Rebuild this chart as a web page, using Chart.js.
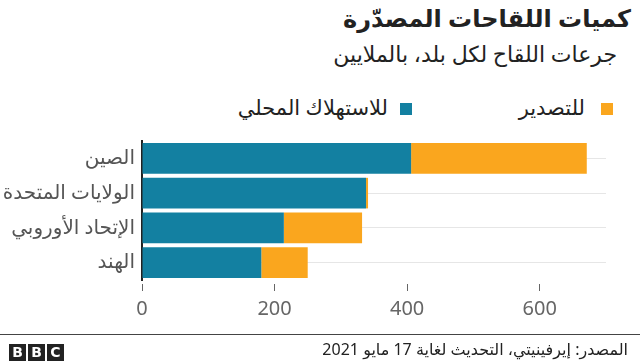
<!DOCTYPE html>
<html lang="ar">
<head>
<meta charset="utf-8">
<script src="https://cdn.jsdelivr.net/npm/chart.js@4.4.1/dist/chart.umd.min.js"></script>
<style>
body{margin:0;width:640px;height:363px;position:relative;background:#fff;overflow:hidden;
  font-family:"Noto Sans","DejaVu Sans",sans-serif;color:#222}
.t{position:absolute;direction:rtl;white-space:nowrap;line-height:1.2}
#title{right:9px;top:4px;font-size:24px;font-weight:bold}
#sub{right:23px;top:40px;font-size:22px}
.box{position:absolute;width:12px;height:12px}
.lg{font-size:21px;top:95px}
#foot{right:12px;top:340px;font-size:16px}
#rule{position:absolute;left:0;top:334px;width:640px;height:1px;background:#444}
#bbc{position:absolute;left:9px;top:340px}
#bbc span{display:inline-block;width:17px;height:17px;margin-right:2px;background:#222;color:#fff;
  font:bold 14px/17px "DejaVu Sans",sans-serif;text-align:center}
canvas{position:absolute;left:0;top:0}
</style>
</head>
<body>
<div class="t" id="title">كميات اللقاحات المصدّرة</div>
<div class="t" id="sub">جرعات اللقاح لكل بلد، بالملايين</div>

<div class="box" style="right:27px;top:103px;background:#FAA61E"></div>
<div class="t lg" style="right:55px">للتصدير</div>
<div class="box" style="right:228px;top:103px;background:#1380A1"></div>
<div class="t lg" style="right:252px">للاستهلاك المحلي</div>

<canvas id="chart" width="640" height="363"></canvas>

<div id="rule"></div>
<div id="bbc"><span>B</span><span>B</span><span>C</span></div>
<div class="t" id="foot">المصدر: إيرفينيتي، التحديث لغاية 17 مايو 2021</div>

<script>
// millions of doses per country
const countries = ['الصين', 'الولايات المتحدة', 'الإتحاد الأوروبي', 'الهند'];
const domestic = [406, 338, 214, 180];
const exported = [265, 3, 118, 70];
const xTicks = [0, 200, 400, 600];

const ctx = document.getElementById('chart');
new Chart(ctx, {
    type: 'bar',
    data: {
        labels: countries,
        datasets: [
            {label: 'للاستهلاك المحلي', data: domestic, backgroundColor: '#1380A1'},
            {label: 'للتصدير', data: exported, backgroundColor: '#FAA61E'}
        ]
    },
    options: {
        indexAxis: 'y',
        responsive: false,
        animation: false,
        layout: {padding: {top: 141, right: 34, bottom: 36, left: 0}},
        plugins: {legend: {display: false}, tooltip: {enabled: false}},
        datasets: {bar: {barPercentage: 0.88, categoryPercentage: 1, borderWidth: 0}},
        scales: {
            x: {
                stacked: true,
                min: 0,
                max: 700,
                afterBuildTicks: function(s) {
                    s.ticks = xTicks.map(v => ({value: v}));
                },
                border: {display: false},
                grid: {drawOnChartArea: false, drawTicks: true, tickLength: 11,
                       tickColor: '#666', tickBorderDash: [0, 4, 7, 100]},
                ticks: {padding: 6, color: '#666', font: {family: 'Noto Sans', size: 20}}
            },
            y: {
                stacked: true,
                afterFit: function(s) { s.width = 142; },
                border: {display: true, color: '#222', width: 2},
                grid: {offset: false, drawTicks: false, color: '#e6e6e6'},
                ticks: {padding: 7, color: '#555', font: {family: 'Noto Sans, DejaVu Sans', size: 20}}
            }
        }
    }
});
</script>
</body>
</html>
